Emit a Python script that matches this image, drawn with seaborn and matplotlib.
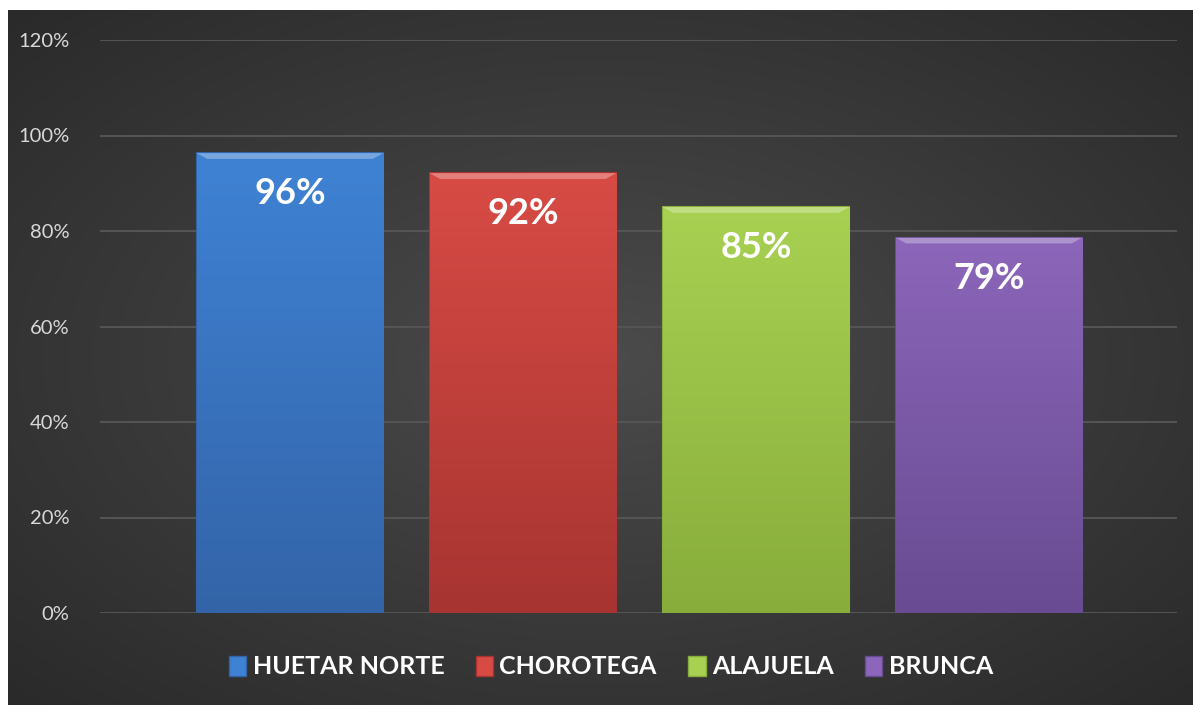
import numpy as np
import pandas as pd
import matplotlib.pyplot as plt
import seaborn as sns
from matplotlib.colors import LinearSegmentedColormap

# chart data
regions = ["HUETAR NORTE", "CHOROTEGA", "ALAJUELA", "BRUNCA"]
shares = [0.963, 0.921, 0.850, 0.786]
labels = ["96%", "92%", "85%", "79%"]
yticks = [0, 0.2, 0.4, 0.6, 0.8, 1.0, 1.2]

# top / bottom colours of each bar gradient
top_colors = ["#3f82d4", "#d84b45", "#a8d152", "#8c66ba"]
bottom_colors = ["#3364a8", "#a73431", "#88ad3b", "#684b92"]

sns.set_theme(style="dark")
plt.rcParams["font.family"] = ["Lato", "DejaVu Sans"]

W, H, DPI = 1193, 705, 100
fig = plt.figure(figsize=(W / DPI, H / DPI), dpi=DPI)
fig.patch.set_facecolor("white")

# dark radial background, white strip on top and left
bg = fig.add_axes([8 / W, 0, 1 - 8 / W, 1 - 10 / H])
bg.set_axis_off()
yy, xx = np.mgrid[-1:1:300j, -1:1:500j]
r = np.sqrt(xx ** 2 + yy ** 2) / np.sqrt(2)
bg_cmap = LinearSegmentedColormap.from_list("bg", ["#4b4b4b", "#2a2a2a"])
bg.imshow(r, cmap=bg_cmap, aspect="auto", extent=[0, 1, 0, 1])
bg.set_xlim(0, 1)
bg.set_ylim(0, 1)

# main axes: y 0 at px 613, 120% at px 40; x from px 100 to 1177
ax = fig.add_axes([100 / W, (H - 613) / H, 1077 / W, 573 / H])
ax.patch.set_alpha(0)

df = pd.DataFrame({"region": regions, "share": shares})
sns.barplot(data=df, x="region", y="share", hue="region", palette=top_colors,
            width=0.8, legend=False, ax=ax, zorder=3)

ax.set_yticks(yticks)
ax.set_yticklabels([f"{int(round(t * 100))}%" for t in yticks])
ax.tick_params(axis="y", colors="#d9d9d9", labelsize=14.5, length=0, pad=22)
ax.set_xticks([])
ax.set_xlabel("")
ax.set_ylabel("")
for s in ax.spines.values():
    s.set_visible(False)
ax.grid(axis="y", color="#555555", linewidth=1.4, zorder=0)
ax.set_axisbelow(True)

# vertical gradient + bevel on each bar
for i, p in enumerate(ax.patches):
    x0, w, h = p.get_x(), p.get_width(), p.get_height()
    cmap = LinearSegmentedColormap.from_list(f"g{i}", [bottom_colors[i], top_colors[i]])
    grad = np.linspace(0, 1, 256).reshape(-1, 1)
    im = ax.imshow(grad, cmap=cmap, aspect="auto", origin="lower",
                   extent=[x0, x0 + w, 0, h], zorder=3.5)
    im.set_clip_path(p)
    p.set_edgecolor(bottom_colors[i])
    p.set_linewidth(1.5)
    # light bevel at top
    ax.fill([x0, x0 + w, x0 + w - 0.045, x0 + 0.045], [h, h, h - 0.012, h - 0.012],
            color="white", alpha=0.3, lw=0, zorder=4)
    ax.text(x0 + w / 2, h - 0.085, labels[i], ha="center", va="center",
            color="white", fontsize=26, fontweight="bold", zorder=5)

ax.set_xlim(-0.815, 3.807)
ax.set_ylim(0, 1.2)

# legend
handles = [plt.Rectangle((0, 0), 1, 1, facecolor=top_colors[i], edgecolor=bottom_colors[i])
           for i in range(len(regions))]
leg = fig.legend(handles, regions, loc="center", bbox_to_anchor=(0.512, (H - 667) / H),
                 ncol=4, frameon=False, fontsize=18, handlelength=0.7, handleheight=0.9,
                 handletextpad=0.25, columnspacing=1.25)
for t in leg.get_texts():
    t.set_color("white")
    t.set_fontweight("bold")

fig.savefig("out.png", dpi=DPI, facecolor=fig.get_facecolor())
